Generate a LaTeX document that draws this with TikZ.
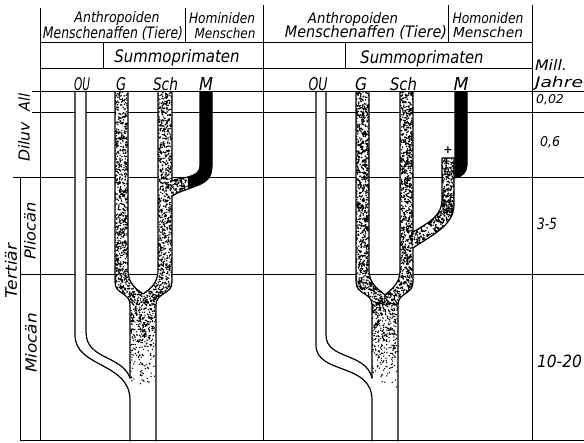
\documentclass[tikz,border=0pt]{standalone}
\usepackage{fontspec}
\usepackage{graphicx}
\newfontfamily\labfont{DejaVu Sans}
\newcommand\fitt[3]{\resizebox{#1pt}{#2pt}{\labfont\itshape #3}}
\begin{document}
\begin{tikzpicture}[x=1pt,y=-1pt,
  frame/.style={line width=1pt},
  tube/.style={line width=1.2pt, line join=round, line cap=round},
  lbl/.style={inner sep=0pt, outer sep=0pt}]
\useasboundingbox (0,0) rectangle (584,443);
\fill[white] (0,0) rectangle (584,443);
% ---------- frame ----------
\draw[frame] (40,8) -- (40,441);
\draw[frame] (263,5) -- (263,441);
\draw[frame] (532,5) -- (532,441);
\draw[frame] (185,8) -- (185,43);
\draw[frame] (448,5) -- (448,43);
\draw[frame] (40,43) -- (532,43);
\draw[frame] (103,43) -- (103,69);
\draw[frame] (345,43) -- (345,69);
\draw[frame] (40,69) -- (532,69);
\draw[frame] (32,113) -- (584,113);
\draw[frame] (13,178) -- (584,178);
\draw[frame] (20,275) -- (584,275);
\draw[frame] (20,178) -- (20,441);
% ---------- shapes ----------
\def\forkL{(115,92) -- (115,282) .. controls (115,295) and (130,292) .. (130,305) -- (130,441) -- (156,441) -- (156,305) .. controls (156,292) and (172,295) .. (172,282) -- (172,92) -- (158,92) -- (158,270) .. controls (158,285) and (148,290) .. (143,294) .. controls (138,290) and (128,285) .. (128,270) -- (128,92) -- cycle}
\def\brL{(172,181) .. controls (175,179) and (180,179) .. (188,177) .. controls (195,175) and (200,173) .. (200,165) -- (200,92) -- (212,92) -- (212,165) .. controls (212,176) and (208,182) .. (196,186) .. controls (186,190) and (178,192) .. (172,196) -- (170,196) -- (170,181) -- cycle}
\def\ouL{(75,92) -- (75,335) .. controls (75,368) and (130,362) .. (130,400) -- (130,441) -- (156,441) -- (156,305) -- (130,305) -- (130,378) .. controls (122,355) and (86,360) .. (86,332) -- (86,92) -- cycle}
\def\forkR{(356,92) -- (356,282) .. controls (356,295) and (372,292) .. (372,305) -- (372,441) -- (398,441) -- (398,305) .. controls (398,292) and (413,295) .. (413,282) -- (413,92) -- (400,92) -- (400,270) .. controls (400,285) and (390,290) .. (385,295) .. controls (380,290) and (369,285) .. (369,270) -- (369,92) -- cycle}
\def\brR{(442,158) -- (442,200) .. controls (442,215) and (430,222) .. (413,232) -- (411,232) -- (411,248) -- (413,248) .. controls (430,236) and (454,226) .. (454,205) -- (454,158) -- cycle}
\def\ouR{(316,92) -- (316,345) .. controls (316,375) and (372,362) .. (372,400) -- (372,441) -- (398,441) -- (398,305) -- (372,305) -- (372,378) .. controls (366,352) and (326,360) .. (326,335) -- (326,92) -- cycle}
\def\mR{(455,92) -- (455,178) .. controls (462,177) and (467,172) .. (467,165) -- (467,92) -- cycle}
\fill[white] \ouL;
\fill[white] \forkL;
\fill[white] \brL;
\fill[white] \ouR;
\fill[white] \forkR;
\fill[white] \brR;
% ---------- stipple ----------
\pgfmathsetseed{4711}
\begin{scope}
  \clip \forkL;
  \fill \foreach \i in {1,...,780} {({115+13*rnd},{92+210*rnd}) circle[radius=0.8pt]};
  \fill \foreach \i in {1,...,830} {({158+14*rnd},{92+210*rnd}) circle[radius=0.8pt]};
  \fill \foreach \i in {1,...,330} {({128+30*rnd},{268+37*rnd}) circle[radius=0.8pt]};
  \fill \foreach \i in {1,...,380} {({130+26*rnd},{300+88*(1-sqrt(rnd))}) circle[radius=0.75pt]};
\end{scope}
\begin{scope}
  \clip \brL;
  \fill \foreach \i in {1,...,180} {({170+20*rnd},{172+26*rnd}) circle[radius=0.8pt]};
  \fill (188,80) rectangle (220,200);
\end{scope}
\begin{scope}
  \clip \forkR;
  \fill \foreach \i in {1,...,850} {({356+13*rnd},{92+210*rnd}) circle[radius=0.85pt]};
  \fill \foreach \i in {1,...,850} {({400+13*rnd},{92+210*rnd}) circle[radius=0.85pt]};
  \fill \foreach \i in {1,...,360} {({369+31*rnd},{268+37*rnd}) circle[radius=0.85pt]};
  \fill \foreach \i in {1,...,400} {({372+26*rnd},{300+88*(1-sqrt(rnd))}) circle[radius=0.75pt]};
\end{scope}
\begin{scope}
  \clip \brR;
  \fill \foreach \i in {1,...,230} {({442+12*rnd},{158+57*rnd}) circle[radius=0.85pt]};
  \fill \foreach \i in {1,...,700} {({411+43*rnd},{195+55*rnd}) circle[radius=0.85pt]};
\end{scope}
\filldraw[tube, fill=black] \mR;
% ---------- outlines ----------
\draw[tube] (75,92) -- (75,335) .. controls (75,368) and (130,362) .. (130,400) -- (130,441);
\draw[tube] (86,92) -- (86,332) .. controls (86,360) and (122,355) .. (130,378);
\draw[tube] (115,92) -- (115,282) .. controls (115,295) and (130,292) .. (130,305) -- (130,378);
\draw[tube] (128,92) -- (128,270) .. controls (128,285) and (138,290) .. (143,294) .. controls (148,290) and (158,285) .. (158,270) -- (158,92);
\draw[tube] (172,92) -- (172,181) .. controls (175,179) and (180,179) .. (188,177) .. controls (195,175) and (200,173) .. (200,165) -- (200,92);
\draw[tube] (212,92) -- (212,165) .. controls (212,176) and (208,182) .. (196,186) .. controls (186,190) and (178,192) .. (172,196) -- (172,282) .. controls (172,295) and (156,292) .. (156,305) -- (156,441);
\draw[tube] (316,92) -- (316,345) .. controls (316,375) and (372,362) .. (372,400) -- (372,441);
\draw[tube] (326,92) -- (326,335) .. controls (326,360) and (366,352) .. (372,378);
\draw[tube] (356,92) -- (356,282) .. controls (356,295) and (372,292) .. (372,305) -- (372,378);
\draw[tube] (369,92) -- (369,270) .. controls (369,285) and (380,290) .. (385,295) .. controls (390,290) and (400,285) .. (400,270) -- (400,92);
\draw[tube] (413,92) -- (413,232) .. controls (430,222) and (442,215) .. (442,200) -- (442,158) -- (454,158);
\draw[tube] (454,158) -- (454,205) .. controls (454,226) and (430,236) .. (413,248) -- (413,282) .. controls (413,295) and (398,292) .. (398,305) -- (398,441);
% lines over the tubes
\draw[frame] (32,92) -- (584,92);
\draw[frame] (20,441) -- (584,441);
% ---------- texts ----------
\node[lbl,anchor=base] (anthL) at (117,23) {\fitt{85}{11}{Anthropoiden}};
\node[lbl,anchor=base] (affL) at (113,39) {\fitt{140}{12}{Menschenaffen (Tiere)}};
\node[lbl,anchor=base] (homL) at (222,23.5) {\fitt{66}{11}{Hominiden}};
\node[lbl,anchor=base] (menL) at (225,39) {\fitt{61}{10.5}{Menschen}};
\node[lbl,anchor=base] (sumL) at (177,63) {\fitt{125}{13}{Summoprimaten}};
\node[lbl,anchor=base] (ouLt) at (82,90.5) {\fitt{16}{13}{OU}};
\node[lbl,anchor=base] (gLt) at (121,90.5) {\fitt{10}{13}{G}};
\node[lbl,anchor=base] (schLt) at (165.5,90.5) {\fitt{25}{13}{Sch}};
\node[lbl,anchor=base] (mLt) at (206,90.5) {\fitt{14}{13}{M}};
\node[lbl,anchor=base] (anthR) at (353,24) {\fitt{90}{11}{Anthropoiden}};
\node[lbl,anchor=base] (affR) at (366,38) {\fitt{162}{12}{Menschenaffen (Tiere)}};
\node[lbl,anchor=base] (homR) at (488,23.5) {\fitt{71}{11}{Homoniden}};
\node[lbl,anchor=base] (menR) at (488,38) {\fitt{70}{10.5}{Menschen}};
\node[lbl,anchor=base] (sumR) at (422,64) {\fitt{123}{13}{Summoprimaten}};
\node[lbl,anchor=base] (ouRt) at (318,90.5) {\fitt{19}{13}{OU}};
\node[lbl,anchor=base] (gRt) at (361,90.5) {\fitt{12}{13}{G}};
\node[lbl,anchor=base] (schRt) at (403.5,90.5) {\fitt{27}{13}{Sch}};
\node[lbl,anchor=base] (mRt) at (461,90.5) {\fitt{15}{13}{M}};
\node[lbl] (plus) at (448,150.5) {\labfont\bfseries\fontsize{11}{11}\selectfont +};
\node[lbl,anchor=base west] (mill) at (535,71) {\fitt{32}{11}{Mill.}};
\node[lbl,anchor=base west] (jahre) at (535,88) {\fitt{48}{11}{Jahre}};
\node[lbl,anchor=base west] (t1) at (536,103.5) {\fitt{28}{9}{0,02}};
\node[lbl,anchor=base west] (t2) at (540,147) {\fitt{20}{10}{0,6}};
\node[lbl,anchor=base west] (t3) at (537,230) {\fitt{20}{11.5}{3-5}};
\node[lbl,anchor=base west] (t4) at (537,368) {\fitt{45}{12.5}{10-20}};
\node[lbl,rotate=90] (alluv) at (24,102.5) {\fitt{18}{11.5}{All}};
\node[lbl,rotate=90] (diluv) at (24,142) {\fitt{40}{11.5}{Diluv}};
\node[lbl,rotate=90] (plio) at (30,231) {\fitt{58}{11.5}{Pliocän}};
\node[lbl,rotate=90] (tert) at (11,271) {\fitt{55}{12}{Tertiär}};
\node[lbl,rotate=90] (mio) at (31,343) {\fitt{60}{11.5}{Miocän}};
\end{tikzpicture}
\end{document}
